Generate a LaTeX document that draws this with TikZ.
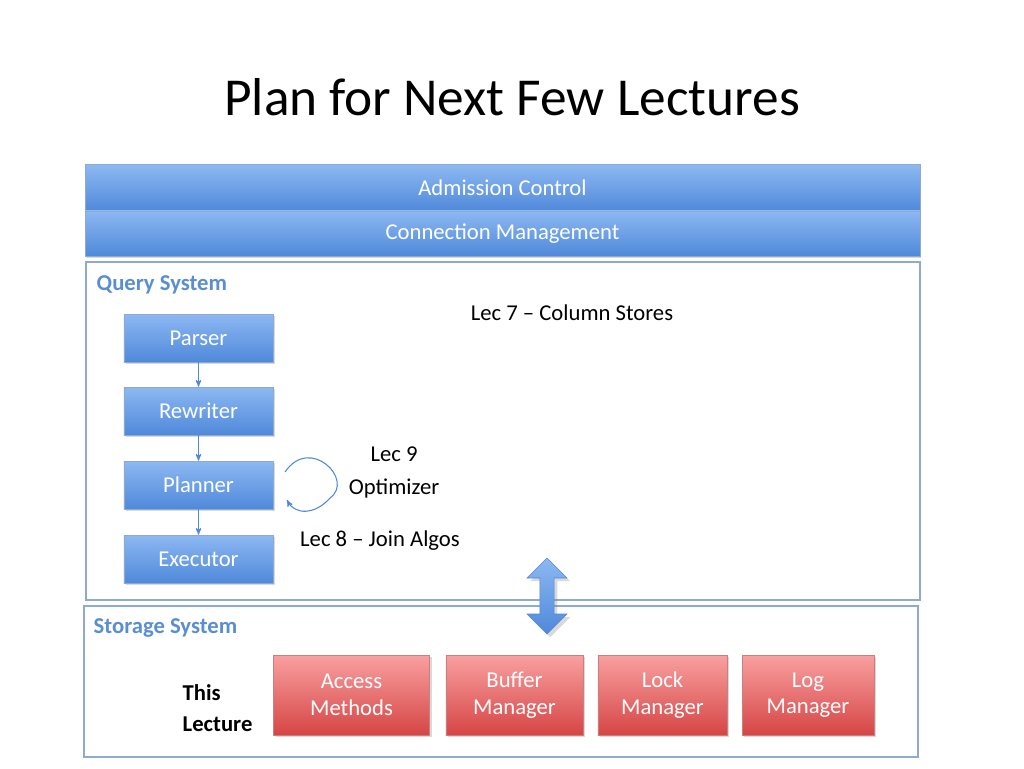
\documentclass[tikz,border=0pt]{standalone}
\usepackage{fontspec}
\setmainfont{Carlito}
\usetikzlibrary{arrows,shapes,positioning,shadows}
\definecolor{barblue}{HTML}{4F89DA}
\definecolor{barlight}{HTML}{8DB8F2}
\definecolor{frameblue}{HTML}{8EAAD0}
\definecolor{labelblue}{HTML}{5A8ED2}
\definecolor{redtop}{HTML}{F9A0A0}
\definecolor{redbot}{HTML}{D64545}
\tikzstyle{bar}=[draw=frameblue,top color=barlight,bottom color=barblue,text=white,font=\fontsize{17}{17}\selectfont,drop shadow={opacity=0.3,shadow xshift=1pt,shadow yshift=-1pt}]
\tikzstyle{stage}=[draw=frameblue,top color=barlight,bottom color=barblue,text=white,minimum width=112pt,minimum height=36pt,inner sep=0pt,font=\fontsize{17}{17}\selectfont,drop shadow={opacity=0.3,shadow xshift=1.5pt,shadow yshift=-1.5pt}]
\tikzstyle{module}=[draw=redtop!80!black,top color=redtop,bottom color=redbot,text=white,minimum height=60pt,inner sep=0pt,align=center,font=\fontsize{17}{20}\selectfont,drop shadow={opacity=0.3,shadow xshift=1.5pt,shadow yshift=-1.5pt}]
\tikzstyle{frame}=[draw=frameblue,line width=0.8pt]
\tikzstyle{syslabel}=[text=labelblue,anchor=west,font=\bfseries\fontsize{17}{17}\selectfont]
\tikzstyle{note}=[font=\fontsize{17}{17}\selectfont]

\begin{document}
\begin{tikzpicture}[x=0.75pt,y=-0.75pt,>=stealth']
\useasboundingbox (0,0) rectangle (1024,768);
\node (title) at (512,97) {\fontsize{40}{40}\selectfont Plan for Next Few Lectures};
% top bars
\node [bar,minimum width=626pt,minimum height=35pt] (admit) at (502.5,188) {Admission Control};
\node [bar,minimum width=626pt,minimum height=34pt] (conn) at (502.5,233.5) {Connection Management};
% query system
\draw [frame] (86,262) rectangle (920,600);
\node [syslabel] (qs) at (92,285) {Query System};
\node [stage] (parser) at (198.5,338) {Parser};
\node [stage] (rewriter) at (198.5,411) {Rewriter};
\node [stage] (planner) at (198.5,485) {Planner};
\node [stage] (executor) at (198.5,559) {Executor};
\foreach \a/\b in {parser/rewriter,rewriter/planner,planner/executor}
  \draw [->,thick,barblue] (\a) -- (\b);
\node [note] (lec7) at (572,313) {Lec 7 -- Column Stores};
\node [note] (lec9) at (394,454) {Lec 9};
\node [note] (opt) at (394,488) {Optimizer};
\node [note] (lec8) at (380,541) {Lec 8 -- Join Algos};
\coordinate (loopa) at (285,472);
\coordinate (loopb) at (287,500);
\draw [->,barblue,thick] (loopa) .. controls (310,435) and (355,480) .. (330,498) .. controls (315,515) and (295,515) .. (loopb);
% storage system
\draw [frame] (84,606) rectangle (918,757);
\node [syslabel] (ss) at (89,628) {Storage System};
\node [module,minimum width=117pt] (access) at (351.5,695) {Access\\Methods};
\node [module,minimum width=103pt] (buffer) at (514.5,695) {Buffer\\Manager};
\node [module,minimum width=97pt] (lock) at (662.5,695) {Lock\\Manager};
\node [module,minimum width=99pt] (log) at (808,695) {Log\\Manager};
\node [anchor=west,align=left,font=\bfseries\fontsize{17}{23}\selectfont] (this) at (178,708) {This\\Lecture};
% double arrow between systems
\node [double arrow,shape border rotate=90,draw=barblue,top color=barlight,bottom color=barblue,minimum height=57pt,minimum width=30pt,double arrow head extend=4pt,inner sep=2pt,drop shadow={opacity=0.3}] (link) at (547,596) {};
\end{tikzpicture}
\end{document}
